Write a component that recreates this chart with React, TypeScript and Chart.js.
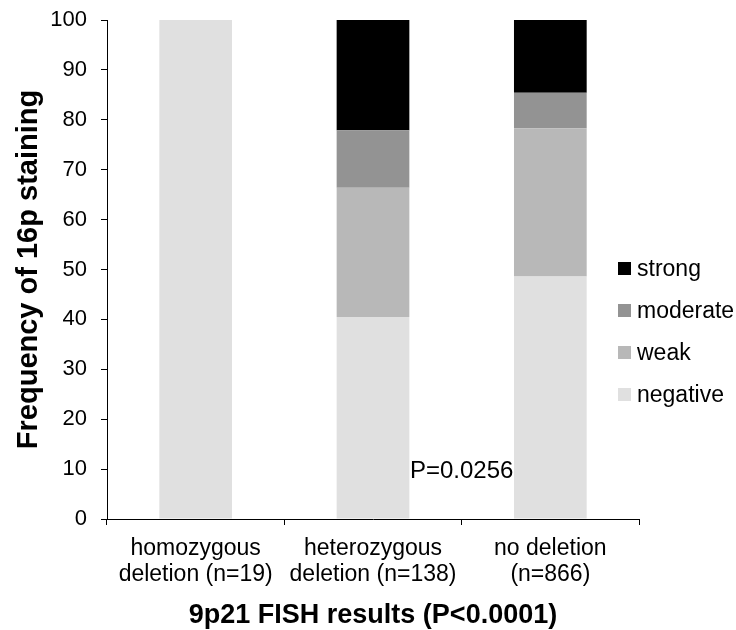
import React, { useEffect, useRef } from "react";
import { Chart, registerables } from "chart.js";

Chart.register(...registerables);

const categories: string[][] = [
  ["homozygous", "deletion (n=19)"],
  ["heterozygous", "deletion (n=138)"],
  ["no deletion", "(n=866)"],
];
const negative = [100, 40.5, 48.6];
const weak = [0, 25.9, 29.7];
const moderate = [0, 11.5, 7.1];
const strong = [0, 22.1, 14.6];
const seriesNames = ["negative", "weak", "moderate", "strong"];
const seriesColors = ["#e0e0e0", "#b8b8b8", "#939393", "#000000"];
const annotationText = "P=0.0256";
const annotationX = 1.5;
const annotationY = 9.6;

const FONT = "'Liberation Sans', Arial, Helvetica, sans-serif";

export default function App() {
  const ref = useRef<HTMLCanvasElement | null>(null);
  useEffect(() => {
    if (!ref.current) return;
    const values = [negative, weak, moderate, strong];
    const extras = {
      id: "extras",
      afterDraw(chart: any) {
        const ctx = chart.ctx;
        const xs = chart.scales.x;
        const ys = chart.scales.y;
        ctx.save();
        ctx.fillStyle = "#000";
        ctx.font = `24px ${FONT}`;
        ctx.textAlign = "center";
        ctx.textBaseline = "middle";
        ctx.fillText(annotationText, xs.getPixelForValue(annotationX), ys.getPixelForValue(annotationY));
        // legend (reversed order)
        const order = [3, 2, 1, 0];
        const x0 = chart.chartArea.right - 21;
        let y = 269;
        ctx.font = `23px ${FONT}`;
        ctx.textAlign = "left";
        order.forEach((i) => {
          ctx.fillStyle = seriesColors[i];
          ctx.fillRect(x0, y - 7, 13, 13);
          ctx.fillStyle = "#000";
          ctx.fillText(seriesNames[i], x0 + 19, y + 1);
          y += 42;
        });
        ctx.restore();
      },
    };
    const chart = new Chart(ref.current, {
      type: "bar",
      data: {
        labels: categories,
        datasets: seriesNames.map((n, i) => ({
          label: n,
          data: values[i],
          backgroundColor: seriesColors[i],
          borderWidth: 0,
          barPercentage: 0.41,
          categoryPercentage: 1,
        })),
      },
      options: {
        animation: false,
        responsive: true,
        maintainAspectRatio: false,
        layout: { padding: { top: 20, right: 97, left: 11, bottom: 1 } },
        plugins: { legend: { display: false }, tooltip: { enabled: false } },
        scales: {
          x: {
            stacked: true,
            afterFit: (scale: any) => {
              scale.height = 110;
            },
            grid: { display: true, drawOnChartArea: false, tickLength: 6, color: "#000", offset: true },
            border: { color: "#000", width: 1 },
            ticks: { color: "#000", font: { size: 23, family: FONT, lineHeight: 1.15 }, maxRotation: 0, padding: 10 },
            title: { display: true, text: "9p21 FISH results (P<0.0001)", color: "#000", font: { size: 27, weight: "bold", family: FONT, lineHeight: 1.0 }, padding: { top: 12, bottom: 0 } },
          },
          y: {
            stacked: true,
            min: 0,
            max: 100,
            afterFit: (scale: any) => {
              scale.width = 96;
              scale.paddingTop = 0;
              scale.paddingBottom = 0;
            },
            ticks: { stepSize: 10, color: "#000", font: { size: 22, family: FONT }, padding: 14 },
            grid: { display: true, drawOnChartArea: false, tickLength: 6, color: "#000" },
            border: { color: "#000", width: 1 },
            title: { display: true, text: "Frequency of 16p staining", color: "#000", font: { size: 29, weight: "bold", family: FONT, lineHeight: 1.1 }, padding: { top: 2, bottom: 0 } },
          },
        },
      },
      plugins: [extras],
    });
    return () => chart.destroy();
  }, []);
  return (
    <div style={{ position: "fixed", left: 0, top: 0, width: 736, height: 630 }}>
      <canvas ref={ref} />
    </div>
  );
}
